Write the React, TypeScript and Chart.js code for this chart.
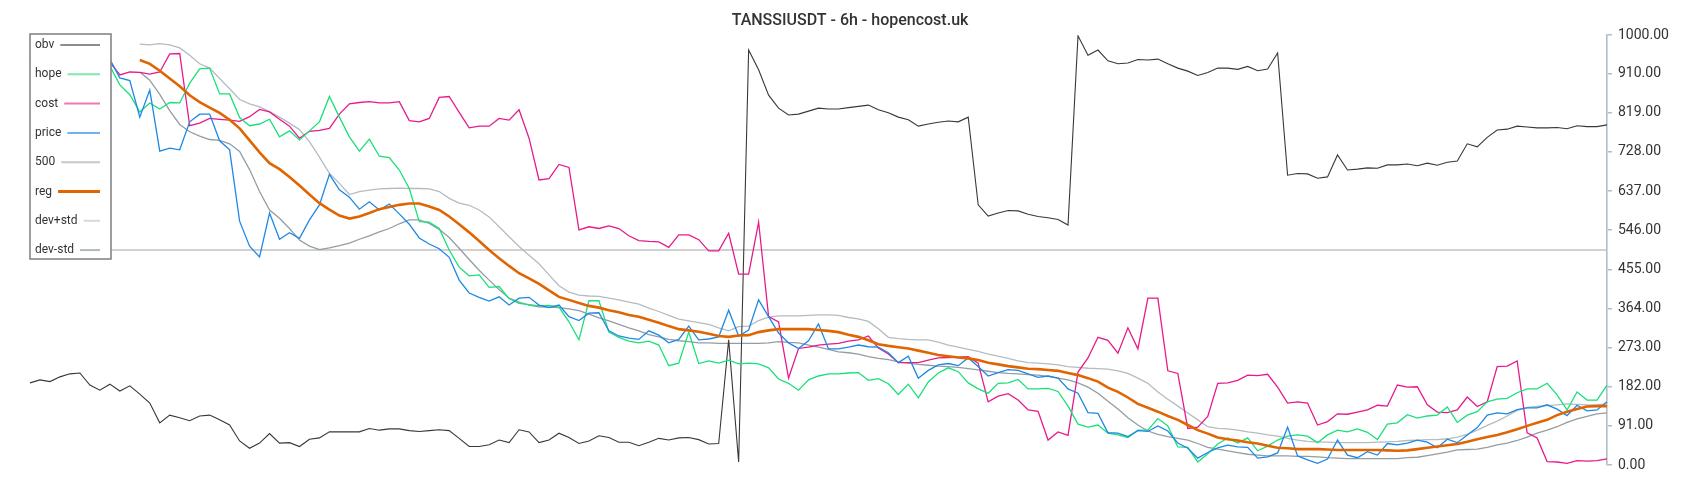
import React, { useEffect, useRef } from "react";
import { Chart, registerables } from "chart.js";

Chart.register(...registerables);

const TITLE = "TANSSIUSDT - 6h - hopencost.uk";
const yTickValues = [0, 91, 182, 273, 364, 455, 546, 637, 728, 819, 910, 1000];
const LEVEL_500 = 500;

const obv = [
  191, 198, 194, 205, 212, 214, 186, 174, 188, 172,
  184, 165, 144, 98, 116, 110, 103, 114, 116, 105,
  93, 56, 39, 51, 73, 51, 52, 43, 60, 63,
  77, 77, 77, 77, 85, 81, 84, 84, 80, 78,
  80, 82, 80, 62, 43, 43, 47, 58, 52, 82,
  77, 52, 58, 74, 64, 50, 56, 68, 64, 53,
  53, 45, 53, 62, 58, 63, 64, 59, 49, 50,
  291, 7, 965, 919, 860, 830, 814, 816, 823, 830,
  828, 828, 831, 834, 837, 826, 819, 809, 803, 788,
  793, 797, 800, 798, 809, 605, 579, 586, 592, 591,
  583, 578, 575, 571, 558, 998, 953, 965, 940, 933,
  935, 943, 942, 944, 933, 923, 916, 906, 913, 923,
  923, 920, 927, 917, 921, 958, 674, 678, 677, 667,
  670, 721, 686, 688, 691, 690, 698, 698, 700, 696,
  702, 697, 704, 707, 747, 740, 762, 779, 781, 788,
  786, 784, 784, 785, 782, 789, 787, 787, 791,
];

const hope = [
  937, 942, 935, 942, 937, 933, 940, 935, 928, 884,
  861, 821, 842, 828, 843, 842, 888, 921, 923, 863,
  863, 808, 789, 793, 804, 763, 777, 756, 777, 798,
  857, 809, 763, 730, 758, 718, 715, 686, 643, 566,
  565, 550, 500, 460, 440, 442, 413, 415, 387, 376,
  373, 370, 371, 367, 333, 291, 382, 382, 309, 297,
  288, 284, 288, 279, 231, 237, 309, 236, 242, 237,
  244, 235, 237, 235, 226, 200, 190, 174, 198, 207,
  212, 212, 214, 215, 197, 201, 189, 164, 188, 156,
  193, 214, 226, 217, 191, 177, 167, 190, 191, 199,
  177, 177, 178, 171, 137, 95, 88, 93, 74, 70,
  64, 81, 81, 108, 91, 42, 41, 7, 26, 49,
  63, 51, 63, 33, 44, 58, 67, 70, 67, 52,
  70, 81, 77, 84, 76, 59, 95, 98, 117, 109,
  114, 116, 135, 99, 116, 124, 147, 153, 155, 168,
  177, 177, 190, 163, 128, 170, 151, 151, 186,
];

const cost = [
  947, 942, 937, 949, 942, 935, 942, 944, 937, 907,
  914, 913, 909, 914, 956, 957, 789, 795, 806, 804,
  802, 799, 810, 827, 821, 804, 788, 760, 776, 778,
  783, 816, 840, 843, 845, 842, 842, 845, 801, 798,
  806, 855, 857, 820, 784, 788, 788, 806, 802, 826,
  760, 663, 666, 699, 692, 547, 554, 550, 556, 550,
  533, 522, 520, 519, 506, 535, 535, 524, 498, 498,
  539, 444, 444, 565, 345, 333, 202, 271, 274, 279,
  281, 283, 288, 291, 300, 272, 258, 238, 238, 238,
  244, 249, 250, 251, 252, 237, 147, 160, 166, 151,
  128, 125, 58, 77, 69, 216, 249, 297, 290, 260,
  319, 270, 388, 388, 219, 213, 85, 88, 113, 190,
  191, 197, 209, 208, 211, 181, 144, 147, 144, 93,
  101, 119, 118, 123, 128, 139, 137, 186, 181, 182,
  140, 123, 122, 128, 158, 136, 147, 229, 230, 242,
  75, 63, 8, 7, 4, 10, 9, 10, 14,
];

const price = [
  919, 923, 928, 937, 935, 930, 942, 947, 944, 900,
  894, 809, 872, 730, 737, 733, 798, 816, 816, 754,
  733, 567, 509, 484, 586, 525, 540, 527, 570, 605,
  676, 640, 623, 595, 612, 593, 607, 584, 560, 528,
  514, 503, 483, 430, 400, 390, 381, 391, 372, 388,
  390, 372, 366, 372, 345, 336, 353, 354, 312, 300,
  295, 292, 312, 302, 284, 292, 323, 291, 293, 298,
  360, 300, 314, 384, 345, 307, 284, 271, 289, 328,
  270, 270, 274, 279, 275, 274, 261, 238, 253, 202,
  220, 233, 236, 231, 249, 229, 207, 215, 222, 220,
  212, 204, 207, 202, 177, 167, 122, 120, 75, 74,
  66, 80, 78, 91, 79, 51, 39, 16, 29, 40,
  46, 42, 41, 16, 19, 28, 88, 21, 12, 4,
  14, 58, 23, 17, 31, 23, 50, 47, 51, 58,
  53, 40, 60, 52, 70, 87, 116, 121, 119, 129,
  133, 133, 140, 130, 115, 139, 126, 128, 147,
];

const reg = [
  null, null, null, null, null, null, null, null, null, null,
  null, 942, 933, 917, 899, 881, 860, 844, 831, 819,
  803, 783, 755, 727, 702, 688, 670, 650, 629, 609,
  594, 580, 573, 578, 586, 595, 600, 605, 608, 608,
  601, 593, 578, 560, 541, 521, 500, 481, 463, 446,
  434, 421, 406, 391, 384, 377, 370, 366, 360, 355,
  349, 345, 338, 331, 323, 316, 313, 310, 305, 300,
  298, 301, 302, 309, 313, 316, 316, 316, 316, 314,
  312, 309, 303, 298, 290, 281, 277, 274, 271, 266,
  261, 256, 253, 250, 248, 244, 238, 234, 230, 227,
  224, 223, 221, 219, 214, 209, 202, 194, 180, 170,
  157, 142, 133, 124, 114, 105, 93, 81, 73, 64,
  60, 57, 53, 50, 45, 40, 39, 37, 37, 37,
  36, 35, 35, 35, 35, 35, 34, 33, 34, 37,
  40, 43, 46, 49, 54, 60, 65, 70, 76, 83,
  91, 98, 105, 116, 124, 130, 136, 137, 137,
];

const devPlus = [
  null, null, null, null, null, null, null, null, null, null,
  null, 979, 977, 980, 977, 970, 953, 933, 923, 899,
  875, 850, 840, 833, 822, 809, 795, 780, 752, 716,
  678, 655, 629, 636, 639, 642, 643, 644, 643, 643,
  642, 636, 620, 609, 604, 593, 577, 554, 531, 508,
  488, 468, 442, 417, 402, 395, 393, 392, 388, 384,
  379, 374, 365, 357, 348, 339, 335, 331, 327, 319,
  312, 322, 323, 336, 344, 347, 347, 347, 348, 349,
  349, 348, 343, 340, 334, 317, 297, 294, 292, 291,
  291, 286, 279, 274, 269, 264, 258, 253, 248, 242,
  238, 237, 235, 233, 229, 227, 225, 224, 223, 219,
  213, 202, 190, 170, 153, 137, 121, 105, 89, 85,
  84, 81, 77, 74, 70, 67, 62, 58, 55, 54,
  53, 52, 52, 52, 52, 53, 54, 55, 57, 58,
  59, 59, 61, 65, 71, 81, 92, 102, 114, 127,
  134, 136, 138, 140, 142, 141, 140, 140, 142,
];

const devMinus = [
  null, null, null, null, null, null, null, null, null, null,
  null, 914, 895, 862, 824, 792, 775, 765, 757, 755,
  747, 729, 687, 636, 593, 574, 550, 523, 509, 501,
  505, 510, 516, 525, 533, 542, 550, 561, 570, 570,
  562, 548, 529, 504, 478, 453, 430, 408, 388, 379,
  372, 368, 367, 366, 363, 359, 351, 342, 335, 327,
  319, 312, 303, 298, 292, 289, 287, 284, 284, 283,
  283, 283, 283, 283, 284, 287, 285, 284, 279, 274,
  269, 263, 261, 258, 252, 248, 245, 240, 237, 234,
  232, 230, 229, 227, 224, 221, 218, 215, 213, 212,
  210, 209, 206, 202, 198, 191, 181, 167, 148, 130,
  110, 93, 79, 71, 66, 62, 58, 50, 41, 37,
  33, 29, 25, 23, 21, 21, 21, 20, 20, 19,
  17, 16, 15, 15, 15, 15, 15, 15, 17, 18,
  22, 26, 30, 35, 36, 37, 41, 47, 51, 57,
  65, 74, 81, 89, 99, 107, 113, 119, 121,
];

const periods = obv.map((_, i) => `P${i + 1}`);

const legendItems = [
  { label: "obv", color: "#8c8c8c", width: 2 },
  { label: "hope", color: "#80e8ab", width: 2 },
  { label: "cost", color: "#ef78b5", width: 2 },
  { label: "price", color: "#72b2ee", width: 2 },
  { label: "500", color: "#c8c8c8", width: 2 },
  { label: "reg", color: "#e06500", width: 3 },
  { label: "dev+std", color: "#d5dadd", width: 2 },
  { label: "dev-std", color: "#aeb7bc", width: 2 },
];

const overlayPlugin = {
  id: "overlay",
  afterDraw(chart: any) {
    const ctx = chart.ctx;
    ctx.save();
    ctx.fillStyle = "#333333";
    ctx.font = "500 16px Roboto";
    ctx.textAlign = "center";
    ctx.textBaseline = "middle";
    ctx.fillText(TITLE, chart.width / 2, 21);
    const bx = 30, by = 34, bw = 81, bh = 225;
    ctx.fillStyle = "#ffffff";
    ctx.fillRect(bx, by, bw, bh);
    ctx.strokeStyle = "#858585";
    ctx.lineWidth = 1.6;
    ctx.strokeRect(bx, by, bw, bh);
    ctx.font = "12px Roboto";
    ctx.textAlign = "left";
    legendItems.forEach((it, i) => {
      const y = 45 + i * 29.3;
      ctx.fillStyle = "#333333";
      ctx.fillText(it.label, 35, y);
      const w = ctx.measureText(it.label).width;
      ctx.strokeStyle = it.color;
      ctx.lineWidth = it.width;
      ctx.beginPath();
      ctx.moveTo(35 + w + 6, y);
      ctx.lineTo(100, y);
      ctx.stroke();
    });
    ctx.restore();
  },
};

export default function App() {
  const ref = useRef<HTMLCanvasElement>(null);
  useEffect(() => {
    if (!ref.current) return;
    Chart.defaults.font.family = "Roboto";
    const line = (label: string, data: any[], color: string, width: number, order: number) => ({
      label,
      data,
      borderColor: color,
      backgroundColor: color,
      borderWidth: width,
      pointRadius: 0,
      tension: 0,
      fill: false,
      order,
    });
    const chart = new Chart(ref.current, {
      type: "line",
      data: {
        labels: periods,
        datasets: [
          line("obv", obv, "#383838", 1.1, 4),
          line("hope", hope, "#19e07a", 1.3, 2),
          line("cost", cost, "#e8198b", 1.3, 3),
          line("price", price, "#1e88e5", 1.3, 1),
          line("500", periods.map(() => LEVEL_500), "#c2c2c2", 1.6, 8),
          line("reg", reg, "#e06500", 2.6, 0),
          line("dev+std", devPlus, "#b4bcc1", 1.3, 6),
          line("dev-std", devMinus, "#929da4", 1.3, 5),
        ],
      },
      options: {
        responsive: false,
        animation: false,
        events: [],
        layout: { padding: { left: 30, top: 35, bottom: 35, right: 0 } },
        plugins: {
          legend: { display: false },
          title: { display: false },
          tooltip: { enabled: false },
        },
        scales: {
          x: { display: false, offset: false },
          y: {
            position: "right",
            min: 0,
            max: 1000,
            afterBuildTicks: (axis: any) => {
              axis.ticks = yTickValues.map((v) => ({ value: v }));
            },
            afterFit: (axis: any) => {
              axis.width = 93;
            },
            grid: {
              drawOnChartArea: false,
              drawTicks: true,
              tickLength: 5,
              color: "#b0bec5",
              lineWidth: 1.5,
            },
            border: { display: true, color: "#b0bec5", width: 1.6 },
            ticks: {
              autoSkip: false,
              padding: 6,
              color: "#333333",
              font: { size: 14, family: "Roboto" },
              callback: (v: any) => Number(v).toFixed(2),
            },
          },
        },
      },
      plugins: [overlayPlugin],
    });
    return () => chart.destroy();
  }, []);
  return (
    <div style={{ position: "absolute", left: 0, top: 0, width: 1700, height: 500, background: "#ffffff" }}>
      <canvas ref={ref} width={1700} height={500} style={{ display: "block" }} />
    </div>
  );
}
